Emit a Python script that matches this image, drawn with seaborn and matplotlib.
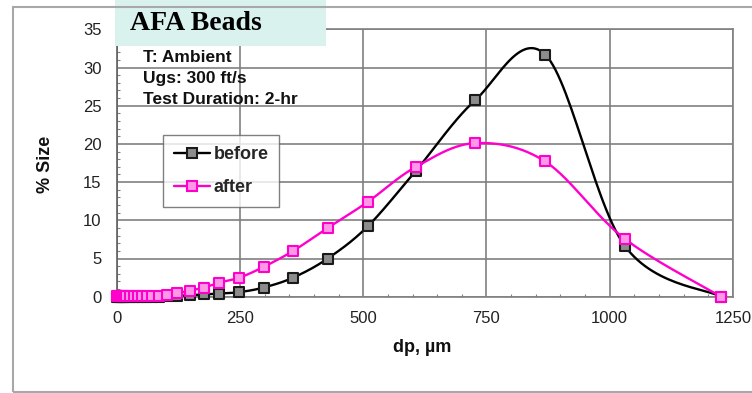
import numpy as np
import pandas as pd
import matplotlib
matplotlib.use("Agg")
import matplotlib.pyplot as plt
import seaborn as sns
from matplotlib.lines import Line2D
from matplotlib.patches import Rectangle

# ---------------- data ----------------
dp_um = [0, 3, 6, 9, 12, 15, 18, 26, 35, 44, 52, 61, 72, 86, 102, 122, 149,
         177, 208, 249, 298, 358, 428, 509, 607, 727, 869, 1030, 1226]
before = [0, 0, 0, 0, 0, 0, 0, 0, 0, 0, 0, 0, 0.01, 0.02, 0.05, 0.1, 0.2,
          0.3, 0.4, 0.6, 1.2, 2.5, 5.0, 9.2, 16.5, 25.7, 31.7, 6.7, 0]
after = [0.1, 0.1, 0.1, 0.1, 0.1, 0.1, 0.1, 0.1, 0.1, 0.1, 0.1, 0.12, 0.12, 0.15, 0.22, 0.45, 0.8,
         1.2, 1.85, 2.5, 3.9, 6.0, 9.0, 12.4, 17.0, 20.1, 17.7, 7.6, 0]
series_names = ["before", "after"]
x_ticks = [0, 250, 500, 750, 1000, 1250]
y_ticks = [0, 5, 10, 15, 20, 25, 30, 35]
title = "AFA Beads"
notes = ["T: Ambient", "Ugs: 300 ft/s", "Test Duration: 2-hr"]

W, H = 752, 393
fig = plt.figure(figsize=(W / 100, H / 100), dpi=100)
sns.set_style("white")
plt.rcParams["font.family"] = ["Liberation Sans", "DejaVu Sans"]

ax_l, ax_r, ax_t, ax_b = 116.7, 733, 29.3, 296.7
ax = fig.add_axes([ax_l / W, 1 - ax_b / H, (ax_r - ax_l) / W, (ax_b - ax_t) / H])
ax.set_xlim(0, 1250)
ax.set_ylim(0, 35)

# pixel scale for Excel-like smoothing
sx = (ax_r - ax_l) / 1250.0
sy = (ax_b - ax_t) / 35.0


def smooth(xs, ys, n=30):
    P = np.column_stack([np.asarray(xs, float) * sx, np.asarray(ys, float) * sy])
    pts = []
    t = np.linspace(0, 1, n)[:, None]
    for i in range(len(P) - 1):
        p0 = P[i - 1] if i > 0 else P[i]
        p1, p2 = P[i], P[i + 1]
        p3 = P[i + 2] if i + 2 < len(P) else P[i + 1]
        c1 = p1 + (p2 - p0) / 6
        c2 = p2 - (p3 - p1) / 6
        b = (1 - t) ** 3 * p1 + 3 * (1 - t) ** 2 * t * c1 + 3 * (1 - t) * t ** 2 * c2 + t ** 3 * p2
        pts.append(b if i == 0 else b[1:])
    B = np.vstack(pts)
    return B[:, 0] / sx, B[:, 1] / sy


styles = {
    "before": dict(line="#000000", face="#8c8c8c", edge="#1a1a1a"),
    "after": dict(line="#ff00cc", face="#ff99e6", edge="#ff00cc"),
}
for name, vals in zip(series_names, [before, after]):
    st = styles[name]
    xs, ys = smooth(dp_um, vals)
    sdf = pd.DataFrame({"x": xs, "y": ys})
    sns.lineplot(data=sdf, x="x", y="y", sort=False, estimator=None, ax=ax,
                 color=st["line"], lw=1.7, zorder=3)
    pdf = pd.DataFrame({"x": dp_um, "y": vals})
    sns.scatterplot(data=pdf, x="x", y="y", ax=ax, marker="s", s=46,
                    color=st["face"], edgecolor=st["edge"], linewidth=1.5,
                    zorder=4, clip_on=False)

# grid / axes styling
ax.set_xticks(x_ticks)
ax.set_yticks(y_ticks)
ax.set_xticks(np.arange(0, 1251, 50), minor=True)
ax.set_yticks(np.arange(0, 36, 1), minor=True)
ax.grid(True, which="major", color="#808080", lw=1.2)
ax.set_axisbelow(True)
for s in ["top", "right"]:
    ax.spines[s].set_visible(True)
    ax.spines[s].set_color("#808080")
    ax.spines[s].set_linewidth(1.2)
ax.spines["left"].set_color("#606060")
ax.spines["left"].set_linewidth(1.2)
ax.spines["bottom"].set_color("#808080")
ax.spines["bottom"].set_linewidth(1.2)
ax.tick_params(axis="y", which="major", direction="out", length=4.3, width=1.1,
               color="#808080", labelsize=12, pad=6.5, labelcolor="#222222")
ax.tick_params(axis="y", which="minor", direction="in", length=2.2, width=0.8,
               color="#808080", left=True)
ax.tick_params(axis="x", which="major", direction="out", length=3, width=1.1,
               color="#808080", labelsize=12, pad=7.5, labelcolor="#222222")
ax.tick_params(axis="x", which="minor", direction="in", length=2.2, width=0.8,
               color="#808080", bottom=True)
ax.set_xlabel("")
ax.set_ylabel("")

fig.text(422 / W, 1 - 348 / H, "dp, µm", ha="center", va="center",
         fontsize=13, fontweight="bold", color="#111111")
fig.text(45 / W, 1 - 164 / H, "% Size", ha="center", va="center", rotation=90,
         fontsize=13, fontweight="bold", color="#111111")

# notes
for txt, yc in zip(notes, [57, 79, 100]):
    fig.text(143 / W, 1 - yc / H, txt, ha="left", va="center",
             fontsize=12.5, fontweight="bold", color="#111111")

# legend
handles = [Line2D([], [], color=styles[n]["line"], lw=1.7, marker="s", markersize=7,
                  markerfacecolor=styles[n]["face"], markeredgecolor=styles[n]["edge"],
                  markeredgewidth=1.5) for n in series_names]
leg = fig.legend(handles, series_names, loc="upper left",
                 bbox_to_anchor=(163 / W, 1 - 135 / H), bbox_transform=fig.transFigure,
                 borderaxespad=0, frameon=True, fancybox=False, handlelength=2.0,
                 handletextpad=0.2, labelspacing=0.9, borderpad=0.6,
                 prop={"weight": "bold", "size": 13})
leg.get_frame().set_edgecolor("#606060")
leg.get_frame().set_linewidth(1.0)
leg.set_zorder(10)

# outer frame
fig.patches.append(Rectangle((13 / W, 1 - 392 / H), (W + 20 - 13) / W, (392 - 7) / H,
                             transform=fig.transFigure, fill=False,
                             edgecolor="#a8a8a8", lw=1.5, zorder=0))

# title box (on top of axes)
tb = Rectangle((115 / W, 1 - 46 / H), (326 - 115) / W, 46 / H + 0.01,
               transform=fig.transFigure, facecolor="#daf2ee", edgecolor="none",
               zorder=20, clip_on=False)
ax.add_artist(tb)
t = fig.text(130 / W, 1 - 23 / H, title, ha="left", va="center",
             fontsize=20, fontweight="bold", family=["Liberation Serif", "DejaVu Serif"],
             color="#000000", zorder=21)

fig.savefig("out.png", dpi=100)
